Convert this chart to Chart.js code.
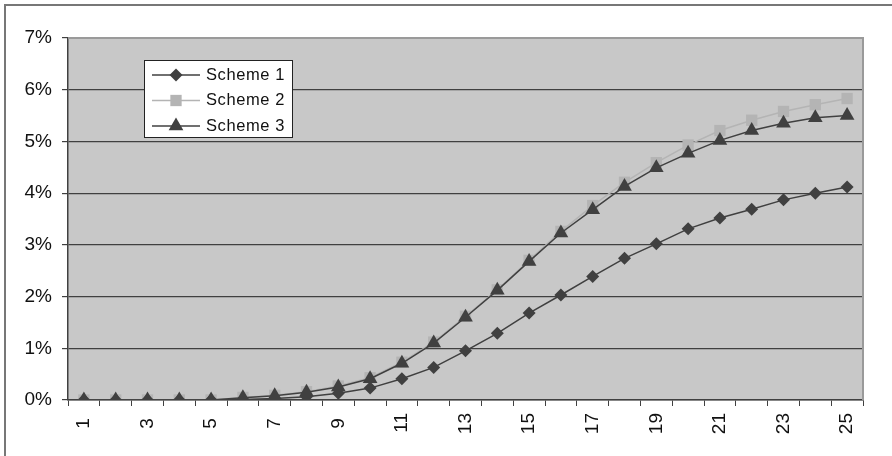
<!DOCTYPE html>
<html>
<head>
<meta charset="utf-8">
<script src="https://cdn.jsdelivr.net/npm/chart.js@4/dist/chart.umd.min.js"></script>
<style>
  html, body { margin:0; padding:0; background:#fff; }
  #wrap { position:relative; width:892px; height:456px; }
</style>
</head>
<body>
<div id="wrap"><canvas id="chart" width="892" height="456"></canvas></div>
<script>
// values (percent)
const categories = ['1','2','3','4','5','6','7','8','9','10','11','12','13','14','15','16','17','18','19','20','21','22','23','24','25'];
const scheme1 = [0,0,0,0,0,0.01,0.03,0.065,0.13,0.23,0.41,0.63,0.95,1.29,1.68,2.03,2.39,2.74,3.02,3.31,3.52,3.69,3.87,4.0,4.12];
const scheme2 = [0,0,0,0,0,0.05,0.09,0.16,0.27,0.43,0.73,1.12,1.62,2.13,2.70,3.26,3.76,4.21,4.59,4.93,5.21,5.41,5.58,5.71,5.83];
const scheme3 = [0,0,0,0,0,0.045,0.08,0.15,0.25,0.41,0.71,1.10,1.60,2.12,2.68,3.23,3.68,4.13,4.49,4.77,5.02,5.21,5.35,5.46,5.50];
const yTicks = [0,1,2,3,4,5,6,7];

const dark = '#404040';
const light = '#b4b4b4';

Chart.defaults.font.family = 'Arial, "Liberation Sans", sans-serif';
Chart.defaults.font.size = 19;
Chart.defaults.color = '#111';

// grey plot area, outer frame and plot border
const backdrop = {
    id:'backdrop',
    beforeDraw(chart){
        const c = chart.ctx, a = chart.chartArea;
        c.save();
        c.fillStyle = '#c8c8c8';
        c.fillRect(a.left, a.top, a.right - a.left, a.bottom - a.top);
        c.strokeStyle = '#777';
        c.lineWidth = 2;
        c.beginPath();
        c.moveTo(5, 456); c.lineTo(5, 5); c.lineTo(892, 5);
        c.stroke();
        c.restore();
    },
    beforeDatasetsDraw(chart){
        const c = chart.ctx, a = chart.chartArea;
        c.save();
        c.strokeStyle = '#9a9a9a';
        c.lineWidth = 2;
        c.beginPath();
        c.moveTo(a.left, a.top); c.lineTo(a.right, a.top); c.lineTo(a.right, a.bottom);
        c.stroke();
        c.restore();
    }
};

// legend box inside the plot, like the original
const boxLegend = {
    id:'boxLegend',
    afterDraw(chart){
        const c = chart.ctx;
        const x = 144, y = 60, w = 148, h = 77;
        c.save();
        c.fillStyle = '#fff';
        c.fillRect(x, y, w, h);
        c.strokeStyle = '#222';
        c.lineWidth = 1;
        c.strokeRect(x + 0.5, y + 0.5, w, h);
        c.font = '16.5px Arial, "Liberation Sans", sans-serif';
        c.textBaseline = 'middle';
        if ('letterSpacing' in c) c.letterSpacing = '0.6px';
        chart.data.datasets.forEach(function(ds, i){
            const ry = 75 + i * 25.5;
            c.strokeStyle = ds.borderColor;
            c.lineWidth = ds.borderWidth;
            c.beginPath();
            c.moveTo(152, ry); c.lineTo(200, ry);
            c.stroke();
            c.fillStyle = ds.pointBackgroundColor;
            Chart.helpers.drawPoint(c, {pointStyle: ds.pointStyle, radius: ds.pointRadius, borderWidth: 0, rotation: 0}, 176, ry);
            c.fillStyle = '#111';
            c.fillText(ds.label, 206, ry);
        });
        c.restore();
    }
};

new Chart(document.getElementById('chart'), {
    type:'line',
    data:{
        labels:categories,
        datasets:[
            {label:'Scheme 1', data:scheme1, borderColor:dark, borderWidth:1.5, pointStyle:'rectRot', pointRadius:6.5,
             pointBackgroundColor:dark, pointBorderColor:dark, pointBorderWidth:0, order:1},
            {label:'Scheme 2', data:scheme2, borderColor:light, borderWidth:1.5, pointStyle:'rect', pointRadius:8,
             pointBackgroundColor:light, pointBorderColor:light, pointBorderWidth:0, order:2},
            {label:'Scheme 3', data:scheme3, borderColor:dark, borderWidth:1.5, pointStyle:'triangle', pointRadius:8.5,
             pointBackgroundColor:dark, pointBorderColor:dark, pointBorderWidth:0, order:0}
        ]
    },
    plugins:[backdrop, boxLegend],
    options:{
        responsive:false,
        animation:false,
        layout:{padding:{left:0, top:38, right:29, bottom:0}},
        plugins:{legend:{display:false}, tooltip:{enabled:false}},
        elements:{line:{tension:0}},
        scales:{
            x:{
                offset:true,
                afterFit:function(s){ s.height = 56; },
                grid:{offset:true, drawOnChartArea:false, drawTicks:true, tickLength:6, tickColor:dark, lineWidth:1},
                border:{color:dark, width:1.5},
                ticks:{
                    autoSkip:false, maxRotation:90, minRotation:90, padding:7, color:'#111',
                    // odd categories only; a trailing space keeps one-digit labels centred like the original
                    callback:function(v, i){
                        if (i % 2 !== 0) return '';
                        const t = categories[i];
                        return t.length === 1 ? t + ' ' : t;
                    }
                }
            },
            y:{
                min:0, max:7,
                afterFit:function(s){ s.width = 68; },
                afterBuildTicks:function(s){ s.ticks = yTicks.map(function(v){ return {value:v}; }); },
                grid:{
                    color:function(ctx){ return ctx.tick && ctx.tick.value === 7 ? 'rgba(0,0,0,0)' : dark; },
                    tickColor:dark, tickLength:6, lineWidth:1.2
                },
                border:{color:dark, width:1.5},
                ticks:{padding:10, color:'#111', callback:function(v){ return v + '%'; }}
            }
        }
    }
});
</script>
</body>
</html>
